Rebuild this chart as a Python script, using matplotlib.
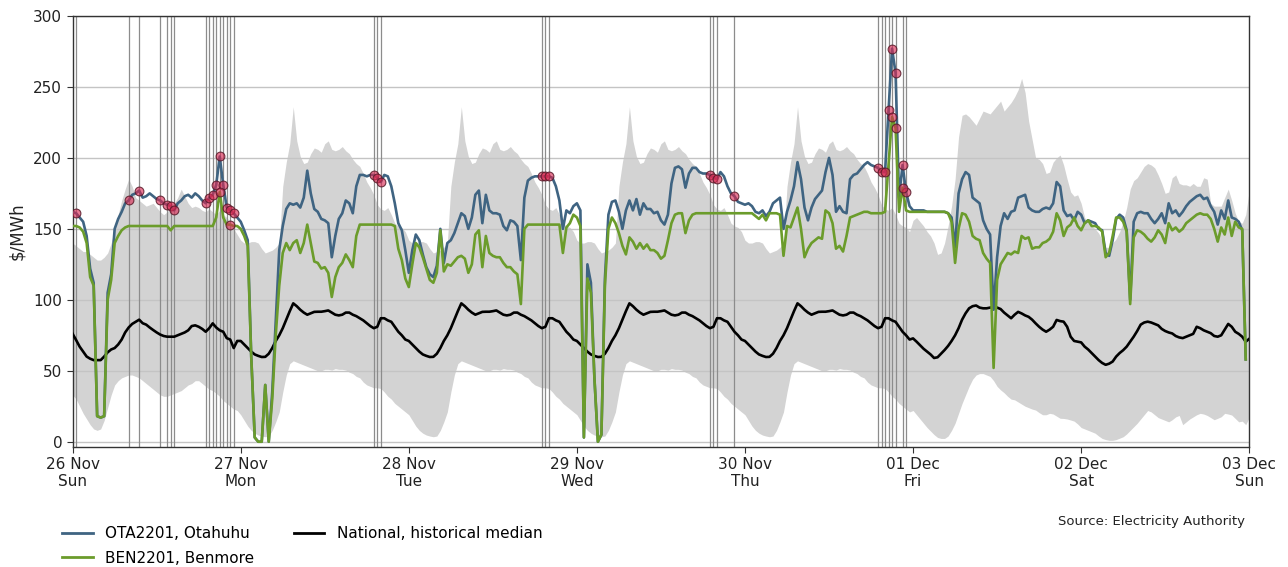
import numpy as np
import pandas as pd
import matplotlib
matplotlib.use("Agg")
import matplotlib.pyplot as plt
import matplotlib.dates as mdates
from matplotlib.lines import Line2D

# Half-hourly trading periods, 26 Nov 00:00 to 03 Dec 00:00
times = pd.date_range("2023-11-26 00:00", periods=337, freq="30min")

# OTA2201 (Otahuhu) nodal price, $/MWh, one list per day
ota_sun = [162, 161, 158, 155, 145, 122, 112, 18, 17, 18, 105, 118, 150, 157, 162, 168, 170, 174, 175, 177,
           172, 173, 175, 173, 171, 170, 168, 167, 166, 163, 168, 170, 173, 174, 172, 175, 173, 170, 168, 172,
           174, 181, 201, 181, 165, 163, 161, 158]
ota_mon = [155, 149, 142, 60, 3, 0, 0, 40, 0, 35, 85, 135, 152, 164, 168, 167, 168, 165, 172, 191,
           175, 164, 162, 157, 156, 154, 130, 145, 157, 161, 170, 168, 161, 180, 188, 188, 187, 188, 188, 186,
           183, 188, 187, 180, 168, 154, 149, 135]
ota_tue = [119, 135, 146, 142, 132, 123, 118, 116, 124, 150, 126, 140, 142, 147, 154, 161, 159, 150, 158, 174,
           177, 154, 174, 163, 161, 161, 160, 152, 149, 156, 155, 152, 128, 172, 184, 186, 187, 187, 187, 187,
           187, 186, 180, 170, 150, 163, 161, 166]
ota_wed = [168, 163, 3, 125, 112, 45, 0, 5, 115, 160, 169, 170, 162, 150, 163, 170, 163, 171, 160, 168,
           164, 164, 161, 162, 156, 153, 160, 182, 193, 194, 192, 179, 189, 193, 193, 190, 189, 189, 188, 186,
           185, 190, 187, 180, 175, 173, 169, 168]
ota_thu = [167, 168, 166, 162, 161, 163, 159, 162, 168, 170, 172, 150, 162, 170, 180, 197, 185, 165, 156, 165,
           171, 174, 177, 190, 200, 188, 162, 166, 162, 161, 185, 188, 189, 192, 195, 197, 195, 194, 193, 190,
           190, 234, 277, 260, 172, 195, 176, 166]
ota_fri = [163, 163, 163, 163, 162, 162, 162, 162, 162, 162, 161, 158, 137, 175, 185, 190, 188, 172, 170, 168,
           156, 150, 146, 93, 130, 152, 161, 157, 162, 163, 172, 173, 174, 165, 163, 162, 162, 164, 165, 164,
           168, 183, 180, 163, 159, 160, 156, 162]
ota_sat = [160, 154, 156, 155, 154, 150, 149, 133, 131, 142, 157, 160, 158, 149, 100, 155, 161, 162, 161, 161,
           157, 154, 157, 161, 154, 168, 161, 163, 159, 162, 166, 169, 171, 173, 174, 171, 172, 166, 162, 153,
           163, 157, 170, 158, 157, 155, 149, 58]

# BEN2201 (Benmore) nodal price, $/MWh
ben_sun = [152, 152, 151, 148, 140, 116, 110, 18, 17, 18, 100, 114, 140, 145, 149, 151, 152, 152, 152, 152,
           152, 152, 152, 152, 152, 152, 152, 152, 149, 152, 152, 152, 152, 152, 152, 152, 152, 152, 152, 152,
           152, 158, 176, 158, 153, 153, 152, 152]
ben_mon = [150, 145, 138, 60, 3, 0, 0, 40, 0, 30, 75, 110, 133, 140, 135, 140, 142, 133, 140, 153,
           140, 127, 126, 122, 123, 119, 102, 116, 123, 126, 132, 128, 123, 145, 153, 153, 153, 153, 153, 153,
           153, 153, 153, 153, 152, 136, 128, 115]
ben_tue = [109, 125, 140, 137, 130, 122, 114, 112, 119, 149, 120, 125, 124, 127, 130, 131, 129, 119, 125, 146,
           149, 123, 145, 133, 131, 130, 130, 126, 123, 123, 120, 118, 97, 150, 153, 153, 153, 153, 153, 153,
           153, 153, 153, 153, 133, 151, 154, 160]
ben_wed = [158, 152, 3, 115, 105, 45, 0, 5, 110, 150, 158, 154, 147, 138, 132, 144, 141, 136, 140, 136,
           139, 135, 135, 133, 129, 131, 142, 154, 160, 161, 161, 147, 156, 160, 161, 161, 161, 161, 161, 161,
           161, 161, 161, 161, 161, 161, 161, 161]
ben_thu = [161, 161, 161, 159, 157, 160, 156, 161, 161, 161, 160, 131, 152, 151, 158, 165, 150, 130, 136, 140,
           142, 144, 143, 163, 161, 154, 136, 138, 134, 145, 158, 159, 160, 161, 162, 162, 161, 161, 161, 161,
           162, 195, 229, 221, 162, 179, 163, 162]
ben_fri = [162, 162, 162, 162, 162, 162, 162, 162, 162, 162, 161, 155, 126, 150, 161, 160, 155, 145, 143, 142,
           133, 129, 126, 52, 114, 125, 129, 133, 132, 134, 133, 145, 143, 144, 136, 137, 137, 140, 141, 143,
           148, 161, 156, 145, 151, 153, 158, 152]
ben_sat = [149, 154, 156, 152, 152, 151, 148, 130, 133, 145, 158, 158, 155, 148, 97, 144, 149, 148, 146, 143,
           141, 144, 149, 146, 140, 154, 149, 151, 148, 150, 154, 156, 158, 160, 161, 160, 160, 157, 150, 141,
           151, 146, 158, 145, 155, 151, 150, 58]

# National historical median and range by day type (48 trading periods each)
med_sun = [76, 71.6, 67, 63.5, 60, 58.5, 57.5, 57.5, 57.5, 60, 63, 65, 66, 68.5, 72, 77, 80.5, 83, 84.5, 86,
           83.5, 82.5, 80.5, 78.7, 77, 75.5, 74.5, 74, 74, 74, 75, 76, 77, 78.5, 81.5, 82, 81, 79.5, 77.5, 80,
           83.4, 80.5, 78.5, 77.5, 73, 72, 66, 71]
med_wkd = [71, 68.5, 66, 63.5, 61.5, 60.5, 59.7, 59.8, 62, 66, 71, 75, 80, 86, 92, 97.5, 95.5, 93, 91, 89.5,
           90.5, 91.5, 91.6, 91.6, 92, 92.5, 91, 89.5, 89, 89.5, 91, 91, 89.5, 88.5, 87, 85.5, 83.5, 81.5, 80, 81,
           87, 87, 85.5, 84.5, 81, 77.5, 75, 72]
med_fri = [72.8, 70.5, 68, 65.5, 63.5, 61.5, 59, 59.5, 62, 64.6, 67.5, 71, 75, 80, 86, 90.5, 94, 95.5, 96, 94.5,
           94, 94, 94.5, 95, 94.5, 93.5, 91, 89, 87, 89.5, 91.5, 90.4, 89, 88, 86, 83.4, 81, 79, 77.5, 79,
           81, 85.8, 85, 84.6, 81, 74, 71, 70.5]
med_sat = [70, 67, 65, 62.5, 60, 57.5, 55.5, 54.2, 55, 56.5, 60, 62.5, 64.5, 67, 70.5, 74, 78, 82.5, 84, 84.6,
           84, 83, 82, 79.5, 78, 77, 76.3, 74.5, 73.5, 73, 74, 75, 76, 81, 80, 78.5, 77.5, 76.5, 74.5, 74,
           75, 79, 83, 81, 77.5, 76, 74, 70.5]

low_sun = [33, 30, 25, 20, 16, 12, 9, 8, 9, 15, 24, 33, 40, 43, 45, 46, 47, 47, 46, 45,
           43, 41, 39, 37, 35, 33, 32, 32, 33, 34, 35, 36, 38, 40, 41, 43, 43, 41, 39, 37,
           36, 34, 32, 29, 27, 25, 23, 22]
upp_sun = [140, 138, 136, 134, 134, 132, 130, 128, 128, 130, 133, 140, 150, 160, 170, 178, 185, 180, 172, 170,
           168, 166, 167, 168, 165, 162, 160, 162, 165, 168, 172, 178, 173, 168, 165, 166, 165, 163, 162, 164,
           162, 160, 163, 160, 158, 155, 150, 146]
low_wkd = [19, 15, 11, 8, 6, 4.7, 4, 3.5, 4, 8, 14, 21, 35, 47, 55, 57, 56, 55, 54, 53,
           52, 51, 50, 50, 51, 51, 50.5, 51.5, 51, 51, 50.5, 49, 48, 46, 45, 42, 40, 39, 38, 38,
           37.5, 35, 32, 30, 27, 25, 23, 21]
upp_wkd = [142, 140, 140, 141, 141, 140, 136, 133, 134, 135, 137, 140, 180, 197, 210, 236, 212, 201, 196, 197,
           203, 207, 206, 204, 210, 212, 206, 205, 206, 208, 205, 203, 199, 196, 194, 189, 183, 179, 174, 167,
           164, 163, 165, 160, 154, 152, 151, 148]
low_fri = [22, 19, 16, 13, 10, 7.5, 5, 3, 2.3, 2.3, 4, 8, 13, 20, 27, 33, 39, 44, 47, 48,
           48, 47, 46, 43, 39, 36.5, 34.5, 32, 30, 29.5, 28, 26.5, 25, 24, 23, 22.3, 20.5, 19, 19, 20,
           19.5, 18, 16.5, 16.4, 16, 15.3, 14.5, 12.5]
upp_fri = [156, 158, 155, 152, 148, 145, 140, 132, 133, 140, 152, 166, 185, 215, 230, 231, 229, 226, 223, 228,
           233, 232, 231, 234, 237, 240, 233, 236, 239, 243, 248, 256, 246, 226, 213, 200, 199, 196, 189, 190,
           197, 200, 202, 195, 185, 176, 173, 174]
low_sat = [10, 9, 8, 7, 6, 4, 2.3, 1.5, 1, 1, 1.5, 2.5, 3.5, 5.5, 8, 10.5, 13, 16, 19, 22,
           21, 19, 17, 16, 15, 14, 15.5, 17.5, 18.5, 12, 14, 16, 17.5, 19, 20, 19.5, 18.5, 17, 15.5, 16.5,
           17.6, 20, 19.5, 18.8, 16.4, 14, 14.5, 12]
upp_sat = [168, 158, 154, 152, 150, 147, 142, 137, 137, 140, 143, 148, 155, 165, 178, 184, 186, 190, 194, 196,
           195, 193, 188, 182, 175, 176, 186, 188, 182, 181, 181, 180, 182, 180, 180, 186, 185, 168, 166, 166,
           166, 172, 178, 170, 161, 155, 154, 160]

# Closing values at 03 Dec 00:00
med_close = 72.5
low_close = 17
upp_close = 177

# Trading periods flagged at each node (index into times)
ota_flag = [1, 16, 19, 25, 27, 28, 29, 38, 39, 40, 41, 42, 43, 44, 45, 46, 86, 87, 88,
            134, 135, 136, 182, 183, 184, 189, 230, 231, 232, 233, 234, 235, 237, 238]
ben_flag = [42, 45, 234, 235, 237]

# ---- assemble the weekly series ----
ota = np.array(ota_sun + ota_mon + ota_tue + ota_wed + ota_thu + ota_fri + ota_sat + [np.nan], dtype=float)
ben = np.array(ben_sun + ben_mon + ben_tue + ben_wed + ben_thu + ben_fri + ben_sat + [np.nan], dtype=float)
median = np.array(med_sun + med_wkd * 4 + med_fri + med_sat + [med_close], dtype=float)
lower = np.array(low_sun + low_wkd * 4 + low_fri + low_sat + [low_close], dtype=float)
upper = np.array(upp_sun + upp_wkd * 4 + upp_fri + upp_sat + [upp_close], dtype=float)

OTA_COLOR = "#3f6482"
BEN_COLOR = "#6b9c2b"

fig = plt.figure(figsize=(12.88, 5.67), dpi=100)
ax = fig.add_axes([0.0564, 0.2122, 0.9135, 0.7596])

ax.fill_between(times, lower, upper, color="#d3d3d3", linewidth=0, zorder=1)

for k in sorted(set(ota_flag) | set(ben_flag)):
    ax.axvline(times[k], color="#8c8c8c", linewidth=0.9, zorder=1.6)

ax.plot(times, median, color="black", linewidth=1.9, zorder=3)
ax.plot(times, ota, color=OTA_COLOR, linewidth=1.9, zorder=4)
ax.plot(times, ben, color=BEN_COLOR, linewidth=1.9, zorder=5)

dot_face = (0.86, 0.16, 0.32, 0.62)
dot_edge = (0.35, 0.10, 0.16, 0.85)
ax.scatter(times[ota_flag], ota[ota_flag], s=40, facecolor=dot_face, edgecolor=dot_edge,
           linewidth=0.8, zorder=6)
ax.scatter(times[ben_flag], ben[ben_flag], s=40, facecolor=dot_face, edgecolor=dot_edge,
           linewidth=0.8, zorder=6)

ax.set_xlim(times[0], times[-1])
ax.set_ylim(-3.5, 300)
ax.set_yticks(np.arange(0, 301, 50))
ax.yaxis.grid(True, color="#c4c4c4", linewidth=1.0)
ax.set_axisbelow("line")

ax.xaxis.set_major_locator(mdates.DayLocator())
ax.xaxis.set_major_formatter(mdates.DateFormatter("%d %b\n%a"))
ax.tick_params(axis="both", labelsize=11, length=4, color="#333333", labelcolor="#222222")
for sp in ax.spines.values():
    sp.set_color("#333333")
    sp.set_linewidth(1.0)

ax.set_ylabel(r"\$/MWh", fontsize=12, labelpad=5, color="#222222")

handles = [Line2D([], [], color=OTA_COLOR, lw=2),
           Line2D([], [], color=BEN_COLOR, lw=2),
           Line2D([], [], color="black", lw=2)]
labels = ["OTA2201, Otahuhu", "BEN2201, Benmore", "National, historical median"]
fig.legend(handles, labels, loc="upper left", bbox_to_anchor=(0.0435, 0.0825), ncol=2,
           frameon=False, fontsize=11, columnspacing=2.6, handlelength=2.0,
           labelspacing=0.6, borderaxespad=0.0)

fig.text(1245 / 1288, 1 - 522 / 567, "Source: Electricity Authority", ha="right", va="center",
         fontsize=9.5, color="#222222")

fig.savefig("out.png", dpi=100)
